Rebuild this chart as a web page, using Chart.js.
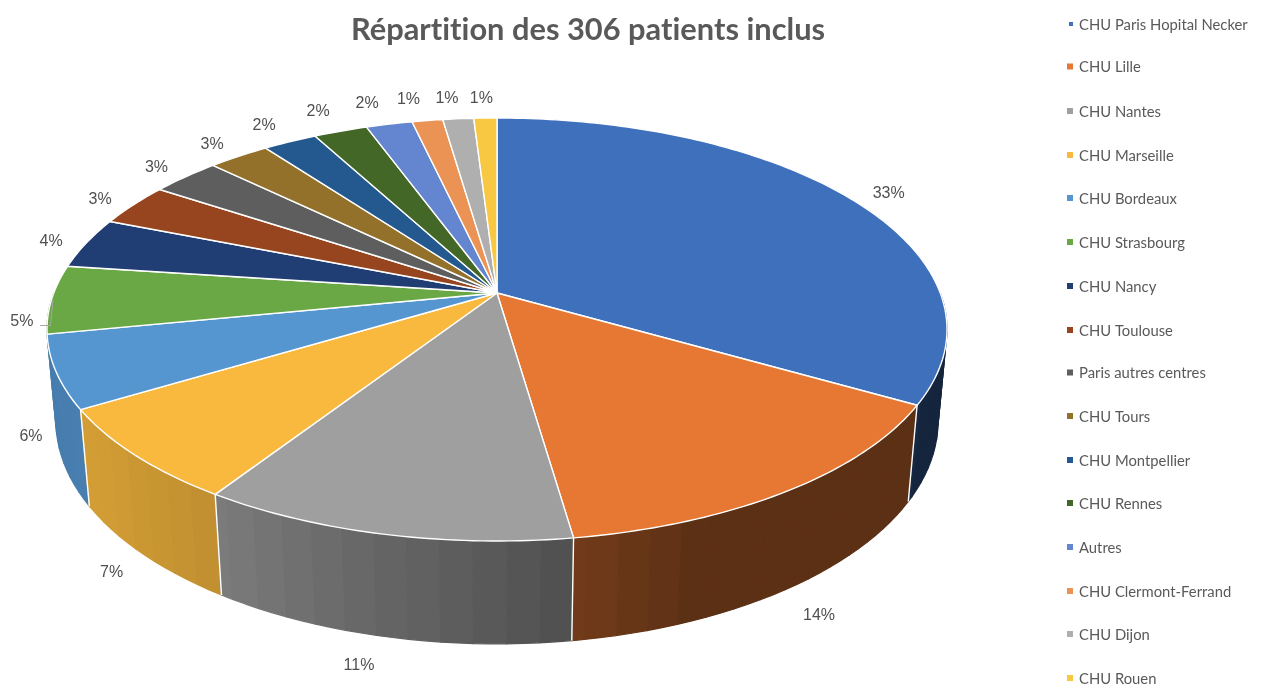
<!DOCTYPE html>
<html lang="fr">
<head>
<meta charset="utf-8">
<title>Répartition des patients</title>
<script src="https://cdn.jsdelivr.net/npm/chart.js@4/dist/chart.umd.min.js"></script>
<style>
  html, body { margin: 0; padding: 0; background: #fff; overflow: hidden; }
  #chart { display: block; filter: blur(0.45px); }
</style>
</head>
<body>
<canvas id="chart" width="1262" height="686"></canvas>
<script>
const centres = [
  'CHU Paris Hopital Necker', 'CHU Lille', 'CHU Nantes', 'CHU Marseille',
  'CHU Bordeaux', 'CHU Strasbourg', 'CHU Nancy', 'CHU Toulouse',
  'Paris autres centres', 'CHU Tours', 'CHU Montpellier', 'CHU Rennes',
  'Autres', 'CHU Clermont-Ferrand', 'CHU Dijon', 'CHU Rouen'
];
const patients = [102, 44, 35, 22, 17, 16, 12, 10, 9, 8, 7, 7, 6, 4, 4, 3];
const couleurs = [
  '#3f70bc', '#e67833', '#9f9f9f', '#f9b93f', '#5596d0', '#6aa745', '#203e73', '#96451f',
  '#5e5e5e', '#94712a', '#24598f', '#436726', '#6485cf', '#ea9355', '#afafaf', '#f9c843'
];

/* ─── PROJECTION 3D ─────────────────────────── */

const PROJ = { cx: 497, cy: 293, a: 443.25, b: 205.2, k: 0.1725, depthW: 0.0196, depthY: 92 };

// u,v : position on the unit disc, v pointing at the viewer. bas = lower face.
function project(u, v, bas) {
  const w = 1 - PROJ.k * v + (bas ? PROJ.depthW : 0);
  return {
    x: PROJ.cx + PROJ.a * u / w,
    y: PROJ.cy + (PROJ.b * v + (bas ? PROJ.depthY : 0)) / w,
  };
}

function rim(theta, bas, f = 1) {
  return project(Math.sin(theta) * f, -Math.cos(theta) * f, bas);
}

// light on the wall, by angle from the top, clockwise (degrees)
const SHADE_KNOTS = [[90, 0.33], [118, 0.33], [122, 0.40], [158, 0.40], [172, 0.50], [212, 0.77], [235, 0.85], [270, 0.82]];

function shadeAt(deg) {
  for (let i = 1; i < SHADE_KNOTS.length; i++) {
    const [d0, s0] = SHADE_KNOTS[i - 1];
    const [d1, s1] = SHADE_KNOTS[i];
    if (deg <= d1) return s0 + (s1 - s0) * (deg - d0) / (d1 - d0);
  }
  return 0.82;
}

function shadeColor(hex, s) {
  const n = parseInt(hex.slice(1), 16);
  const r = Math.round((n >> 16 & 255) * s);
  const g = Math.round((n >> 8 & 255) * s);
  const b = Math.round((n & 255) * s);
  return `rgb(${r},${g},${b})`;
}

const toTheta = angle => angle + Math.PI / 2;
const DEG = Math.PI / 180;

function drawWalls(ctx, arcs) {
  const step = 3.6;
  const facets = [];
  arcs.forEach((arc, i) => {
    const d0 = Math.max(toTheta(arc.startAngle) / DEG, 90);
    const d1 = Math.min(toTheta(arc.endAngle) / DEG, 270);
    for (let d = d0; d < d1; d += step) {
      facets.push({ d0: d, d1: Math.min(d + step, d1), color: couleurs[i] });
    }
  });
  facets.sort((p, q) => Math.abs(q.d0 - 180) - Math.abs(p.d0 - 180));
  facets.forEach(f => {
    const steps = [f.d0, (f.d0 + f.d1) / 2, f.d1].map(d => d * DEG);
    ctx.beginPath();
    steps.forEach((t, i) => {
      const p = rim(t, false);
      if (i === 0) ctx.moveTo(p.x, p.y); else ctx.lineTo(p.x, p.y);
    });
    steps.slice().reverse().forEach(t => {
      const p = rim(t, true);
      ctx.lineTo(p.x, p.y);
    });
    ctx.closePath();
    const col = shadeColor(f.color, shadeAt((f.d0 + f.d1) / 2));
    ctx.fillStyle = col;
    ctx.strokeStyle = col;
    ctx.lineWidth = 1.2;
    ctx.lineJoin = 'round';
    ctx.fill();
    ctx.stroke();
  });

  // white edges between the slices on the wall
  ctx.strokeStyle = '#fff';
  ctx.lineWidth = 1.4;
  arcs.forEach(arc => {
    const t = toTheta(arc.endAngle);
    if (t / DEG < 110 || t / DEG > 250) return;
    const p0 = rim(t, false);
    const p1 = rim(t, true);
    ctx.beginPath();
    ctx.moveTo(p0.x, p0.y);
    ctx.lineTo(p1.x, p1.y);
    ctx.stroke();
  });
}

function drawTop(ctx, arcs) {
  arcs.forEach((arc, i) => {
    const t0 = toTheta(arc.startAngle);
    const t1 = toTheta(arc.endAngle);
    const n = Math.max(2, Math.ceil((t1 - t0) / DEG));
    ctx.beginPath();
    ctx.moveTo(PROJ.cx, PROJ.cy);
    for (let j = 0; j <= n; j++) {
      const p = rim(t0 + (t1 - t0) * j / n, false);
      ctx.lineTo(p.x, p.y);
    }
    ctx.closePath();
    ctx.fillStyle = couleurs[i];
    ctx.fill();
    ctx.strokeStyle = '#fff';
    ctx.lineWidth = 1.4;
    ctx.lineJoin = 'round';
    ctx.stroke();
  });
}

/* ─── ETIQUETTES ────────────────────────────── */

const LABEL_NUDGE = [
  [6, 4], [5, -1], [-13, -2], [9, -1], [12, -39], [15, 22], [4, 3], [0, 3],
  [-1, 1], [-4, 0], [-8, -3], [-9, -6], [-13, -6], [-13, -6], [-8, -6], [-3, -5]
];

function drawLabels(ctx, arcs) {
  const total = patients.reduce((s, v) => s + v, 0);
  ctx.font = '16px "Liberation Sans", Arial, sans-serif';
  ctx.fillStyle = '#505050';
  ctx.textAlign = 'center';
  ctx.textBaseline = 'middle';
  arcs.forEach((arc, i) => {
    const t = toTheta((arc.startAngle + arc.endAngle) / 2);
    const deg = t / DEG;
    const p = rim(t, deg > 100 && deg < 260, 1.1);
    const txt = Math.round(patients[i] / total * 100) + '%';
    ctx.fillText(txt, p.x + LABEL_NUDGE[i][0], p.y + LABEL_NUDGE[i][1]);
  });
  // leader line of the 5% label
  ctx.strokeStyle = '#a6a6a6';
  ctx.lineWidth = 1;
  ctx.beginPath();
  ctx.moveTo(40, 325.5);
  ctx.lineTo(50.5, 325.5);
  ctx.lineTo(53, 300);
  ctx.stroke();
}

/* ─── LEGENDE ───────────────────────────────── */

const LEGEND_Y = [24, 66.5, 111, 155, 198, 242, 286, 330, 372.5, 416, 460, 503, 547, 591, 634, 678];

function drawLegend(chart) {
  const ctx = chart.ctx;
  ctx.save();
  ctx.font = '14.8px Lato, sans-serif';
  ctx.textAlign = 'left';
  ctx.textBaseline = 'middle';
  chart.data.labels.forEach((label, i) => {
    const y = LEGEND_Y[i];
    const size = i === 0 ? 4 : 6;
    ctx.fillStyle = couleurs[i];
    ctx.fillRect(1073 - size, y - size / 2, size, size);
    ctx.fillStyle = '#595959';
    ctx.fillText(label, 1079, y + 1);
  });
  ctx.restore();
}

const pie3d = {
  id: 'pie3d',
  beforeDraw(chart) {
    // no "ti" ligature in Lato, the original font has none
    chart.ctx.letterSpacing = '0.01px';
  },
  beforeDatasetsDraw(chart) {
    const ctx = chart.ctx;
    const arcs = chart.getDatasetMeta(0).data;
    ctx.save();
    drawWalls(ctx, arcs);
    drawTop(ctx, arcs);
    drawLabels(ctx, arcs);
    ctx.restore();
    drawLegend(chart);
    return false;
  },
};

new Chart(document.getElementById('chart'), {
  type: 'pie',
  data: {
    labels: centres,
    datasets: [{ data: patients, backgroundColor: couleurs, borderWidth: 0 }],
  },
  options: {
    responsive: false,
    animation: false,
    layout: { padding: { right: 86 } },
    plugins: {
      legend: { display: false },
      tooltip: { enabled: false },
      title: {
        display: true,
        fullSize: false,
        text: 'Répartition des 306 patients inclus',
        color: '#595959',
        font: { family: 'Lato', size: 30.8, weight: '700' },
        padding: { top: 12, bottom: 0 },
      },
    },
  },
  plugins: [pie3d],
});
</script>
</body>
</html>
